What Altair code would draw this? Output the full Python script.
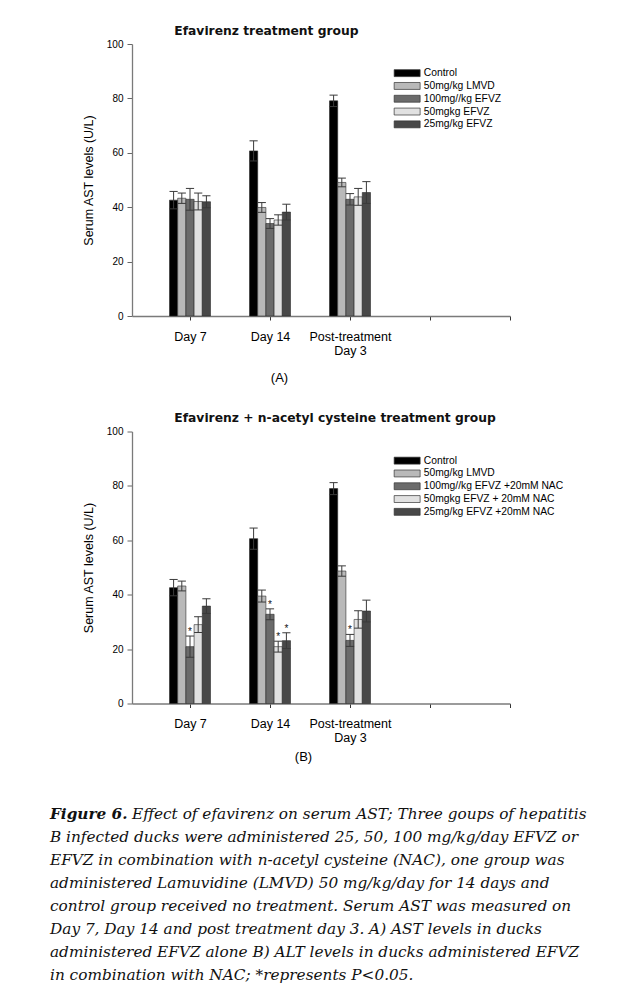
import json
import altair as alt
import pandas as pd

# ---------------- data ----------------
days = ["Day 7", "Day 14", "Post-treatment|Day 3", "", ""]
day_idx = [0, 1, 2]

series_a = ["Control", "50mg/kg LMVD", "100mg//kg EFVZ", "50mgkg EFVZ", "25mg/kg EFVZ"]
series_b = ["Control", "50mg/kg LMVD", "100mg//kg EFVZ +20mM NAC",
            "50mgkg EFVZ + 20mM NAC", "25mg/kg EFVZ +20mM NAC"]
colors = ["#000000", "#b9b9b9", "#6b6b6b", "#e1e1e1", "#484848"]

# rows = series, columns = Day 7, Day 14, Post-treatment Day 3
mean_a = [[42.6, 60.7, 79.1],
          [43.3, 39.9, 49.1],
          [42.9, 34.0, 42.9],
          [42.1, 35.3, 43.8],
          [42.0, 38.2, 45.4]]
err_a = [[3.2, 3.7, 2.1],
         [1.9, 1.8, 1.6],
         [4.0, 1.8, 2.1],
         [3.1, 1.9, 3.1],
         [2.2, 2.9, 4.0]]
sig_a = [[0, 0, 0], [0, 0, 0], [0, 0, 0], [0, 0, 0], [0, 0, 0]]

mean_b = [[42.6, 60.6, 79.0],
          [43.2, 39.5, 48.7],
          [20.9, 32.8, 23.2],
          [29.0, 20.9, 30.9],
          [35.8, 23.1, 34.0]]
err_b = [[3.0, 3.9, 2.2],
         [1.8, 2.2, 1.9],
         [3.9, 2.0, 2.2],
         [2.9, 2.0, 3.2],
         [2.7, 2.9, 4.0]]
sig_b = [[0, 0, 0], [0, 0, 0], [1, 1, 1], [0, 1, 0], [0, 1, 0]]

caption_bold = "Figure 6."
caption_first = "Effect of efavirenz on serum AST; Three goups of hepatitis"
caption_lines = [
    "B infected ducks were administered 25, 50, 100 mg/kg/day EFVZ or",
    "EFVZ in combination with n-acetyl cysteine (NAC), one group was",
    "administered Lamuvidine (LMVD) 50 mg/kg/day for 14 days and",
    "control group received no treatment. Serum AST was measured on",
    "Day 7, Day 14 and post treatment day 3. A) AST levels in ducks",
    "administered EFVZ alone B) ALT levels in ducks administered EFVZ",
    "in combination with NAC; *represents P<0.05.",
]

BAR_W = 0.1025
SANS = "Liberation Sans"
label_expr = f"split({json.dumps(days)}[datum.value], '|')"


def panel(series, mean, err, sig, title, tag, tag_x, tag_y):
    rows = []
    for s, name in enumerate(series):
        for d in day_idx:
            rows.append(dict(d=d, s=s, series=name, mean=mean[s][d],
                             err=err[s][d], sig=sig[s][d]))
    df = pd.DataFrame(rows)
    base = alt.Chart(df).transform_calculate(
        x0=f"datum.d + (datum.s - 2.5) * {BAR_W}",
        x1=f"datum.d + (datum.s - 1.5) * {BAR_W}",
        xc=f"datum.d + (datum.s - 2) * {BAR_W}",
        lo="datum.mean - datum.err",
        hi="datum.mean + datum.err",
    )
    xscale = alt.Scale(domain=[-0.725, 4.0], nice=False, zero=False)
    yscale = alt.Scale(domain=[0, 100], nice=False)
    xaxis = alt.Axis(values=[0, 1, 2, 3, 4], labelExpr=label_expr, title=tag,
                     titleX=tag_x, titleY=tag_y, titleAlign="center",
                     titleBaseline="middle", titleFont=SANS, titleFontSize=13,
                     titleFontWeight="normal", titleColor="#000",
                     labelFont=SANS, labelFontSize=12.5, labelColor="#000",
                     labelPadding=10, labelLineHeight=14, labelBaseline="top",
                     tickSize=4, tickColor="#333", domainColor="#7a7a7a",
                     domainWidth=1.3, grid=False, labelAngle=0)
    yaxis = alt.Axis(values=[0, 20, 40, 60, 80, 100], title="Serum AST levels (U/L)",
                     titleFont=SANS, titleFontSize=12.5, titleFontWeight="normal",
                     titleColor="#000", titlePadding=11,
                     labelFont=SANS, labelFontSize=10, labelColor="#000",
                     labelPadding=4, tickSize=5, tickColor="#666",
                     domainColor="#7a7a7a", domainWidth=1.3, grid=False)
    legend = alt.Legend(orient="none", legendX=270, legendY=24, title=None,
                        symbolType="M-3,-0.8H3V0.8H-3Z", symbolSize=75,
                        symbolStrokeColor="#333", symbolStrokeWidth=0.7,
                        symbolOpacity=1, labelFont=SANS, labelFontSize=10.3,
                        labelColor="#000", labelOffset=11.5, rowPadding=1.8,
                        labelLimit=300)
    bars = base.mark_bar(stroke="#2a2a2a", strokeWidth=0.6, opacity=1).encode(
        x=alt.X("x0:Q", scale=xscale, axis=xaxis),
        x2="x1:Q",
        y=alt.Y("mean:Q", scale=yscale, axis=yaxis),
        y2=alt.datum(0),
        fill=alt.Fill("series:N", scale=alt.Scale(domain=series, range=colors),
                      legend=legend),
    )
    stem = base.mark_rule(color="#3a3a3a", strokeWidth=1).encode(
        x="xc:Q", y="lo:Q", y2="hi:Q")
    cap_hi = base.mark_rule(color="#3a3a3a", strokeWidth=1).encode(
        x="x0:Q", x2="x1:Q", y="hi:Q")
    cap_lo = base.mark_rule(color="#3a3a3a", strokeWidth=1).encode(
        x="x0:Q", x2="x1:Q", y="lo:Q")
    stars = base.transform_filter("datum.sig == 1").mark_text(
        text="*", font=SANS, fontSize=10, color="#111", baseline="alphabetic",
        dy=-1).encode(x="xc:Q", y="hi:Q")
    return alt.layer(bars, stem, cap_hi, cap_lo, stars).properties(
        width=378, height=272,
        title=alt.TitleParams(title, anchor="start", dx=92, font="DejaVu Sans",
                              fontSize=12.3, fontWeight="bold", color="#111",
                              offset=2),
    )


chart_a = panel(series_a, mean_a, err_a, sig_a, "Efavirenz treatment group",
                "(A)", 147, 61)
chart_b = panel(series_b, mean_b, err_b, sig_b,
                "Efavirenz + n-acetyl cysteine treatment group", "(B)", 171, 53)

# ---------------- caption ----------------
cap_df = pd.DataFrame({"line": list(range(1, len(caption_lines) + 1)),
                       "text": caption_lines})
first_df = pd.DataFrame({"line": [0], "bold": [caption_bold], "text": [caption_first]})
cy = alt.Scale(domain=[-1.0, 7.5], reverse=True, nice=False, zero=False)
cap_font = dict(font="DejaVu Serif", fontStyle="italic", fontSize=15.3,
                color="#111", align="left", baseline="middle")
cap_rest = alt.Chart(cap_df).mark_text(dx=-82, **cap_font).encode(
    x=alt.value(0), y=alt.Y("line:Q", scale=cy, axis=None), text="text:N")
cap_b = alt.Chart(first_df).mark_text(dx=-82, fontWeight="bold", **cap_font).encode(
    x=alt.value(0), y=alt.Y("line:Q", scale=cy, axis=None), text="bold:N")
cap_1 = alt.Chart(first_df).mark_text(dx=0, **cap_font).encode(
    x=alt.value(0), y=alt.Y("line:Q", scale=cy, axis=None), text="text:N")
caption = alt.layer(cap_b, cap_1, cap_rest).properties(width=378, height=195.5)

chart = alt.vconcat(chart_a, chart_b, caption, spacing=27.5).resolve_scale(
    x="independent", y="independent", fill="independent"
).resolve_legend(fill="independent").properties(
    padding={"left": 42, "top": 16, "right": 5, "bottom": 5},
    background="white",
).configure_view(stroke=None)

chart.save("out.html", embed_options={"renderer": "svg", "actions": False})
